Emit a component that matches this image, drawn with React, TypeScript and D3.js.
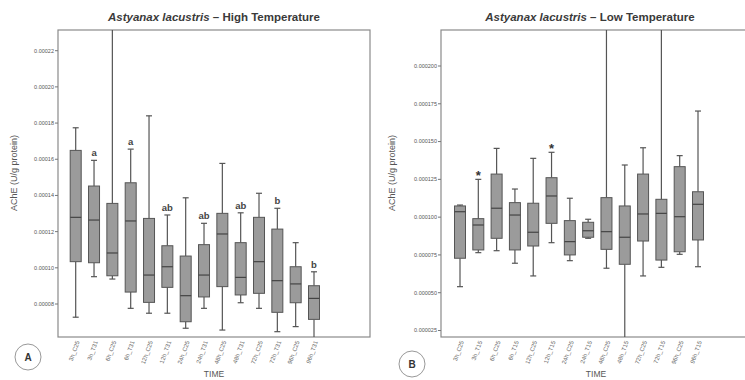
// Astyanax lacustris AChE boxplots: High vs Low temperature panels
import React from "react";
import * as d3 from "d3";

// ---- panel A (high temperature) ----
const highLabels = ["3h_C25", "3h_T31", "6h_C25", "6h_T31", "12h_C25", "12h_T31", "24h_C25",
  "24h_T31", "48h_C25", "48h_T31", "72h_C25", "72h_T31", "96h_C25", "96h_T31"];
const highMin = [0.0000727, 0.0000951, 0.0000938, 0.0000776, 0.0000749, 0.0000749, 0.0000666,
  0.0000776, 0.0000656, 0.0000807, 0.0000776, 0.0000647, 0.0000675, 0.000055];
const highQ1 = [0.0001034, 0.0001028, 0.0000956, 0.0000866, 0.0000809, 0.0000892, 0.0000702,
  0.0000839, 0.0000896, 0.000085, 0.0000859, 0.0000754, 0.0000807, 0.0000715];
const highMed = [0.0001279, 0.0001264, 0.0001082, 0.0001259, 0.000096, 0.0001006, 0.0000846,
  0.000096, 0.0001187, 0.0000947, 0.0001034, 0.0000929, 0.0000911, 0.0000831];
const highQ3 = [0.0001649, 0.0001452, 0.0001356, 0.000147, 0.0001273, 0.0001122, 0.0001065,
  0.0001128, 0.0001301, 0.0001139, 0.0001279, 0.0001214, 0.0001006, 0.0000901];
const highMax = [0.0001774, 0.0001594, 0.00026, 0.0001656, 0.000184, 0.0001292, 0.0001387,
  0.0001246, 0.0001577, 0.0001304, 0.0001412, 0.0001329, 0.0001139, 0.0000978];
const highMarks = ["", "a", "", "a", "", "ab", "", "ab", "", "ab", "", "b", "", "b"];
const highTicks = [0.00008, 0.0001, 0.00012, 0.00014, 0.00016, 0.00018, 0.0002, 0.00022];

// ---- panel B (low temperature) ----
const lowLabels = ["3h_C25", "3h_T15", "6h_C25", "6h_T15", "12h_C25", "12h_T15", "24h_C25",
  "24h_T15", "48h_C25", "48h_T15", "72h_C25", "72h_T15", "96h_C25", "96h_T15"];
const lowMin = [0.000054, 0.0000765, 0.0000778, 0.0000695, 0.0000611, 0.0000831, 0.0000712,
  0.000086, 0.0000662, 0.00001, 0.0000611, 0.0000668, 0.0000754, 0.0000672];
const lowQ1 = [0.0000728, 0.0000783, 0.000086, 0.0000783, 0.0000809, 0.0000959, 0.000075,
  0.0000867, 0.0000787, 0.0000688, 0.0000842, 0.0000716, 0.0000771, 0.0000849];
const lowMed = [0.0001036, 0.0000948, 0.0001059, 0.0001014, 0.00009, 0.000114, 0.0000838,
  0.000091, 0.0000904, 0.0000867, 0.0001021, 0.0001025, 0.0001003, 0.0001085];
const lowQ3 = [0.0001074, 0.000099, 0.0001285, 0.0001096, 0.0001092, 0.0001261, 0.0000977,
  0.0000966, 0.0001129, 0.0001074, 0.0001285, 0.0001118, 0.0001334, 0.0001168];
const lowMax = [0.000108, 0.000125, 0.0001455, 0.0001186, 0.0001389, 0.0001429, 0.0001125,
  0.0000986, 0.00026, 0.0001345, 0.0001459, 0.00026, 0.0001407, 0.0001702];
const lowMarks = ["", "*", "", "", "", "*", "", "", "", "", "", "", "", ""];
const lowTicks = [0.000025, 0.00005, 0.000075, 0.0001, 0.000125, 0.00015, 0.000175, 0.0002];

const FONT = "Liberation Sans, Arial, sans-serif";

interface PanelProps {
  id: string;
  letter: string;
  title: string;
  labels: string[];
  mins: number[];
  q1s: number[];
  meds: number[];
  q3s: number[];
  maxs: number[];
  marks: string[];
  ticks: number[];
  fmt: string;
  tickDomain: [number, number];
  tickRange: [number, number];
  left: number;
  right: number;
  xRange: [number, number];
  badge: [number, number];
  yTitleX: number;
  titleX: number;
  timeX: number;
}

const top = 30, bottom = 337;

function Panel(p: PanelProps) {
  const x = d3.scalePoint<string>().domain(p.labels).range(p.xRange);
  const y = d3.scaleLinear().domain(p.tickDomain).range(p.tickRange);
  const f = d3.format(p.fmt);
  const bw = 11, cap = 3;
  return (
    <g>
      <defs>
        <clipPath id={"clip-" + p.id}>
          <rect x={p.left} y={top} width={p.right - p.left} height={bottom - top} />
        </clipPath>
      </defs>
      <text x={p.titleX} y={21} textAnchor="middle" fontFamily={FONT}
        fontSize={11.5} fontWeight="bold" fill="#3a3a3a">
        <tspan fontStyle="italic">Astyanax lacustris</tspan>{" – " + p.title}
      </text>
      <rect x={p.left} y={top} width={p.right - p.left} height={bottom - top}
        fill="none" stroke="#8a8a8a" strokeWidth={1.2} />
      {p.ticks.map((t) => (
        <g key={t}>
          <line x1={p.left - 3} x2={p.left} y1={y(t)} y2={y(t)} stroke="#777" />
          <text x={p.left - 4} y={y(t)} dy="0.35em" textAnchor="end" fontFamily={FONT}
            fontSize={5.5} fill="#555">{f(t)}</text>
        </g>
      ))}
      <text transform={`translate(${p.yTitleX},${173}) rotate(-90)`} textAnchor="middle"
        fontFamily={FONT} fontSize={9} fill="#555">AChE (U/g protein)</text>
      <g clipPath={`url(#clip-${p.id})`}>
        {p.labels.map((lab, i) => {
          const cx = x(lab) as number;
          return (
            <g key={lab}>
              <line x1={cx} x2={cx} y1={y(p.maxs[i])} y2={y(p.q3s[i])} stroke="#555" strokeWidth={1.2} />
              <line x1={cx} x2={cx} y1={y(p.q1s[i])} y2={y(p.mins[i])} stroke="#555" strokeWidth={1.2} />
              <line x1={cx - cap} x2={cx + cap} y1={y(p.maxs[i])} y2={y(p.maxs[i])} stroke="#555" strokeWidth={1.2} />
              <line x1={cx - cap} x2={cx + cap} y1={y(p.mins[i])} y2={y(p.mins[i])} stroke="#555" strokeWidth={1.2} />
              <rect x={cx - bw / 2} y={y(p.q3s[i])} width={bw} height={y(p.q1s[i]) - y(p.q3s[i])}
                fill="#9b9b9b" stroke="#555" strokeWidth={1} />
              <line x1={cx - bw / 2} x2={cx + bw / 2} y1={y(p.meds[i])} y2={y(p.meds[i])}
                stroke="#444" strokeWidth={1.2} />
            </g>
          );
        })}
      </g>
      {p.labels.map((lab, i) => {
        const m = p.marks[i];
        if (!m) return null;
        const cx = x(lab) as number;
        return m === "*" ? (
          <text key={"m" + i} x={cx} y={y(p.maxs[i]) + 1} textAnchor="middle" fontFamily={FONT}
            fontSize={13} fontWeight="bold" fill="#333">*</text>
        ) : (
          <text key={"m" + i} x={cx} y={y(p.maxs[i]) - 4} textAnchor="middle" fontFamily={FONT}
            fontSize={9.5} fontWeight="bold" fill="#444">{m}</text>
        );
      })}
      {p.labels.map((lab) => (
        <text key={"x" + lab} transform={`translate(${(x(lab) as number) + 2},${bottom + 4}) rotate(-70)`}
          textAnchor="end" dy="0.35em" fontFamily={FONT} fontSize={6} fill="#666">{lab}</text>
      ))}
      <text x={p.timeX} y={377} textAnchor="middle" fontFamily={FONT}
        fontSize={8.5} fill="#555">TIME</text>
      <circle cx={p.badge[0]} cy={p.badge[1]} r={13} fill="#fff" stroke="#999" strokeWidth={1} />
      <text x={p.badge[0]} y={p.badge[1]} dy="0.36em" textAnchor="middle" fontFamily={FONT}
        fontSize={10} fontWeight="bold" fill="#333">{p.letter}</text>
    </g>
  );
}

export default function App() {
  return (
    <svg width={745} height={380} style={{ position: "absolute", left: 0, top: 0, background: "#fff" }}>
      <Panel id="A" letter="A" title="High Temperature" labels={highLabels} mins={highMin} q1s={highQ1}
        meds={highMed} q3s={highQ3} maxs={highMax} marks={highMarks} ticks={highTicks} fmt=".5f"
        tickDomain={[0.00008, 0.00022]} tickRange={[304, 50.7]} left={58} right={370}
        xRange={[75.7, 314]} badge={[28, 357]} yTitleX={17} titleX={214} timeX={214} />
      <Panel id="B" letter="B" title="Low Temperature" labels={lowLabels} mins={lowMin} q1s={lowQ1}
        meds={lowMed} q3s={lowQ3} maxs={lowMax} marks={lowMarks} ticks={lowTicks} fmt=".6f"
        tickDomain={[0.000025, 0.0002]} tickRange={[330.5, 66]} left={441} right={760}
        xRange={[460, 698]} badge={[412, 364]} yTitleX={395} titleX={590} timeX={596} />
    </svg>
  );
}
